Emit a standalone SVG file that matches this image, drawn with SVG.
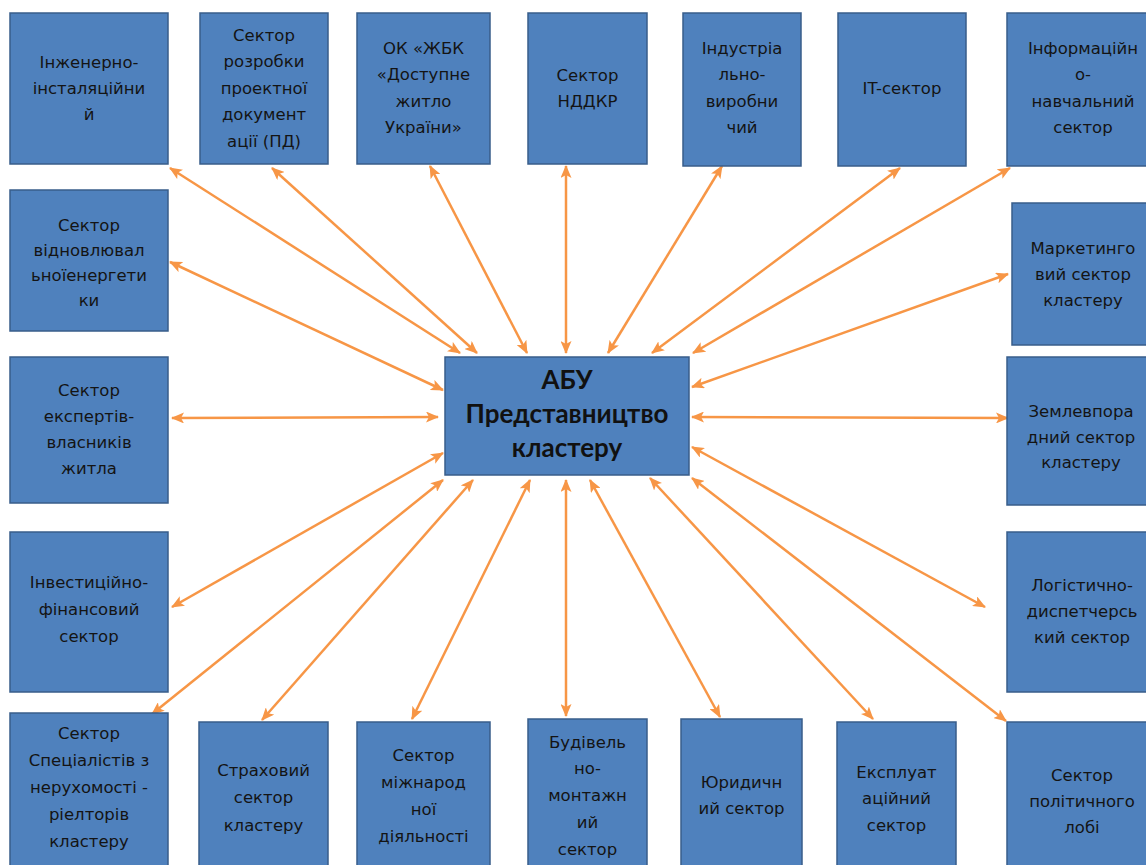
<svg xmlns="http://www.w3.org/2000/svg" width="1146" height="865" viewBox="0 0 1146 865">
<style>
.b{fill:#4f81bd;stroke:#385d8a;stroke-width:1.5}
.t{font-family:"DejaVu Sans",Verdana,sans-serif;font-size:16.5px;fill:#141414;text-anchor:middle}
.c{font-family:Lato,"Open Sans",sans-serif;font-weight:bold;font-size:26px;fill:#111;text-anchor:middle}
.a{stroke:#f79646;stroke-width:2.5;fill:none;marker-start:url(#h);marker-end:url(#h)}
</style>
<defs>
<marker id="h" viewBox="0 0 13 11" refX="12" refY="5.5" markerWidth="13" markerHeight="11" markerUnits="userSpaceOnUse" orient="auto-start-reverse">
<path d="M0,0 L13,5.5 L0,11 L3,5.5 Z" fill="#f79646"/>
</marker>
</defs>
<rect width="1146" height="865" fill="#fff"/>
<g id="connectors">
<line class="a" x1="170" y1="168" x2="460" y2="353"/>
<line class="a" x1="272" y1="168" x2="477" y2="353"/>
<line class="a" x1="430" y1="166" x2="527" y2="353"/>
<line class="a" x1="566" y1="166" x2="566" y2="353"/>
<line class="a" x1="722" y1="166" x2="608" y2="353"/>
<line class="a" x1="900" y1="168" x2="652" y2="353"/>
<line class="a" x1="1010" y1="168" x2="693" y2="353"/>
<line class="a" x1="170" y1="262" x2="443" y2="390"/>
<line class="a" x1="172" y1="418" x2="438" y2="417"/>
<line class="a" x1="172" y1="607" x2="443" y2="453"/>
<line class="a" x1="152" y1="714" x2="443" y2="480"/>
<line class="a" x1="262" y1="720" x2="473" y2="480"/>
<line class="a" x1="412" y1="719" x2="530" y2="480"/>
<line class="a" x1="566" y1="716" x2="566" y2="480"/>
<line class="a" x1="720" y1="717" x2="590" y2="480"/>
<line class="a" x1="873" y1="719" x2="650" y2="478"/>
<line class="a" x1="1006" y1="721" x2="692" y2="478"/>
<line class="a" x1="985" y1="607" x2="692" y2="447"/>
<line class="a" x1="1008" y1="418" x2="692" y2="417"/>
<line class="a" x1="1008" y1="274" x2="692" y2="387"/>
</g>
<g id="center">
<rect class="b" x="445" y="357" width="244" height="118"/>
<text class="c" x="567" y="389">АБУ</text>
<text class="c" x="567" y="423">Представництво</text>
<text class="c" x="567" y="457">кластеру</text>
</g>
<g id="n1"><rect class="b" x="10" y="13" width="158" height="151"/>
<text class="t" x="89" y="68">Інженерно-</text><text class="t" x="89" y="94">інсталяційни</text><text class="t" x="89" y="120">й</text></g>
<g id="n2"><rect class="b" x="200" y="13" width="128" height="151"/>
<text class="t" x="264" y="41">Сектор</text><text class="t" x="264" y="67">розробки</text><text class="t" x="264" y="94">проектної</text><text class="t" x="264" y="120">документ</text><text class="t" x="264" y="147">ації (ПД)</text></g>
<g id="n3"><rect class="b" x="357" y="13" width="133" height="151"/>
<text class="t" x="423.5" y="54">ОК «ЖБК</text><text class="t" x="423.5" y="80">«Доступне</text><text class="t" x="423.5" y="107">житло</text><text class="t" x="423.5" y="133">України»</text></g>
<g id="n4"><rect class="b" x="528" y="13" width="119" height="151"/>
<text class="t" x="587.5" y="81">Сектор</text><text class="t" x="587.5" y="107">НДДКР</text></g>
<g id="n5"><rect class="b" x="683" y="13" width="118" height="153"/>
<text class="t" x="742" y="54">Індустріа</text><text class="t" x="742" y="80">льно-</text><text class="t" x="742" y="107">виробни</text><text class="t" x="742" y="133">чий</text></g>
<g id="n6"><rect class="b" x="838" y="13" width="128" height="153"/>
<text class="t" x="902" y="94">IT-сектор</text></g>
<g id="n7"><rect class="b" x="1007" y="13" width="153" height="153"/>
<text class="t" x="1083" y="54">Інформаційн</text><text class="t" x="1083" y="80">о-</text><text class="t" x="1083" y="107">навчальний</text><text class="t" x="1083" y="133">сектор</text></g>
<g id="n8"><rect class="b" x="10" y="190" width="158" height="141"/>
<text class="t" x="89" y="231">Сектор</text><text class="t" x="89" y="256">відновлювал</text><text class="t" x="89" y="281">ьноїенергети</text><text class="t" x="89" y="306">ки</text></g>
<g id="n9"><rect class="b" x="10" y="357" width="158" height="146"/>
<text class="t" x="89" y="396">Сектор</text><text class="t" x="89" y="422">експертів-</text><text class="t" x="89" y="448">власників</text><text class="t" x="89" y="474">житла</text></g>
<g id="n10"><rect class="b" x="10" y="532" width="158" height="160"/>
<text class="t" x="89" y="588">Інвестиційно-</text><text class="t" x="89" y="615">фінансовий</text><text class="t" x="89" y="642">сектор</text></g>
<g id="n11"><rect class="b" x="10" y="713" width="158" height="165"/>
<text class="t" x="89" y="739">Сектор</text><text class="t" x="89" y="766">Спеціалістів з</text><text class="t" x="89" y="793">нерухомості -</text><text class="t" x="89" y="820">ріелторів</text><text class="t" x="89" y="847">кластеру</text></g>
<g id="n12"><rect class="b" x="199" y="722" width="129" height="160"/>
<text class="t" x="263.5" y="776">Страховий</text><text class="t" x="263.5" y="803">сектор</text><text class="t" x="263.5" y="831">кластеру</text></g>
<g id="n13"><rect class="b" x="357" y="722" width="133" height="160"/>
<text class="t" x="423.5" y="761">Сектор</text><text class="t" x="423.5" y="788">міжнарод</text><text class="t" x="423.5" y="815">ної</text><text class="t" x="423.5" y="842">діяльності</text></g>
<g id="n14"><rect class="b" x="528" y="719" width="119" height="160"/>
<text class="t" x="587.5" y="748">Будівель</text><text class="t" x="587.5" y="774">но-</text><text class="t" x="587.5" y="801">монтажн</text><text class="t" x="587.5" y="828">ий</text><text class="t" x="587.5" y="855">сектор</text></g>
<g id="n15"><rect class="b" x="681" y="719" width="121" height="160"/>
<text class="t" x="741.5" y="788">Юридичн</text><text class="t" x="741.5" y="814">ий сектор</text></g>
<g id="n16"><rect class="b" x="837" y="722" width="119" height="160"/>
<text class="t" x="896.5" y="778">Експлуат</text><text class="t" x="896.5" y="804">аційний</text><text class="t" x="896.5" y="831">сектор</text></g>
<g id="n17"><rect class="b" x="1007" y="722" width="153" height="160"/>
<text class="t" x="1082" y="781">Сектор</text><text class="t" x="1082" y="807">політичного</text><text class="t" x="1082" y="833">лобі</text></g>
<g id="n18"><rect class="b" x="1007" y="532" width="153" height="160"/>
<text class="t" x="1082" y="591">Логістично-</text><text class="t" x="1082" y="617">диспетчерсь</text><text class="t" x="1082" y="643">кий сектор</text></g>
<g id="n19"><rect class="b" x="1007" y="357" width="153" height="148"/>
<text class="t" x="1081" y="417">Землевпора</text><text class="t" x="1081" y="443">дний сектор</text><text class="t" x="1081" y="468">кластеру</text></g>
<g id="n20"><rect class="b" x="1012" y="203" width="148" height="142"/>
<text class="t" x="1083" y="254">Маркетинго</text><text class="t" x="1083" y="280">вий сектор</text><text class="t" x="1083" y="306">кластеру</text></g>
</svg>
